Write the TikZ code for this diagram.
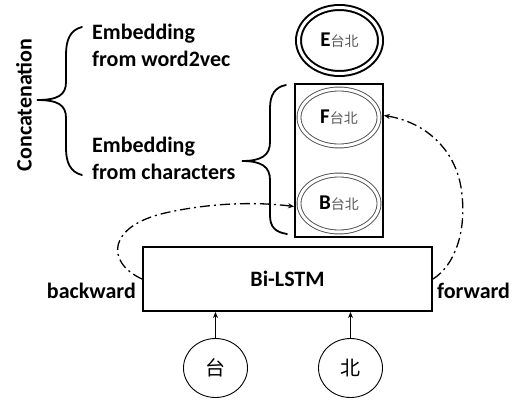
\documentclass[tikz,border=0pt]{standalone}
\usepackage{fontspec}
\setmainfont{Carlito}
\newfontfamily\cjkfont{Noto Sans CJK SC}
\usetikzlibrary{shapes.geometric,arrows.meta}

\newcommand{\hanzi}[1]{{\cjkfont\mdseries\fontsize{14}{14}\selectfont\color{black!65}#1}}

\tikzset{
  lbl/.style={font=\fontsize{22}{27}\selectfont\bfseries, inner sep=0pt},
  wordemb/.style={ellipse, draw, line width=2pt, double, double distance=3pt,
                  minimum width=82pt, minimum height=66pt, inner sep=0pt,
                  font=\fontsize{21}{21}\selectfont\bfseries},
  charemb/.style={ellipse, draw=black!70, text=black, line width=0.9pt, double,
                  double distance=3pt, minimum width=80pt, minimum height=57pt,
                  inner sep=0pt, font=\fontsize{21}{21}\selectfont\bfseries},
  stackbox/.style={rectangle, draw, line width=1.8pt, minimum width=88pt,
                   minimum height=153pt, inner sep=0pt},
  lstmbox/.style={rectangle, draw, line width=2pt, minimum width=289pt,
                  minimum height=64pt, inner sep=0pt,
                  font=\fontsize{22}{22}\selectfont\bfseries},
  charin/.style={ellipse, draw, line width=0.9pt, minimum width=64pt,
                 minimum height=59pt, inner sep=0pt,
                 font=\cjkfont\fontsize{20}{20}\selectfont},
  feed/.style={line width=1.3pt, -{Stealth[length=6pt,width=5pt]}},
  recur/.style={line width=1.3pt, dash pattern=on 10pt off 4pt on 2pt off 4pt,
                -{Stealth[length=6pt,width=5pt]}},
  bracepath/.style={line width=1.8pt, line cap=round},
}

\begin{document}
\begin{tikzpicture}[x=1pt,y=-1pt]
\fill[white] (0,0) rectangle (526,405);
\useasboundingbox (0,0) rectangle (526,405);

% embedding stack
\node[wordemb] (e) at (339.5,40.5) {E\hanzi{台北}};
\node[stackbox] (stack) at (339,160.5) {};
\node[charemb] (f) at (339,117.5) {F\hanzi{台北}};
\node[charemb] (b) at (339,203.5) {B\hanzi{台北}};

% recurrent layer and inputs
\node[lstmbox] (lstm) at (287.5,279) {Bi-LSTM};
\node[charin] (tai) at (215.5,368) {台};
\node[charin] (bei) at (350.5,368) {北};

\draw[feed] (tai.north) -- (tai.north |- lstm.south);
\draw[feed] (bei.north) -- (bei.north |- lstm.south);

% labels
\node[lbl, anchor=east] (bw) at (136,291) {backward};
\node[lbl, anchor=west] (fw) at (437,291) {forward};
\node[lbl, align=left, anchor=west] (w2v) at (92,45) {Embedding\\from word2vec};
\node[lbl, align=left, anchor=west] (chr) at (92,158) {Embedding\\from characters};
\node[lbl, rotate=90] (cat) at (24,105) {Concatenation};

% backward and forward passes
\draw[recur] (lstm.west) .. controls (105,262) and (108,226) .. (165,213)
             .. controls (205,204) and (250,201) .. ([yshift=-3pt]b.west -| stack.west);
\draw[recur] (lstm.east) .. controls (455,265) and (466,232) .. (462,195)
             .. controls (458,150) and (425,122) .. ([yshift=2pt]f.east -| stack.east);

% braces
\draw[bracepath] (82,27) .. controls (70,30) and (66,40) .. (66,55) -- (66,82)
   .. controls (66,95) and (58,100) .. (37,100)
   .. controls (58,100) and (66,105) .. (66,118) -- (66,148)
   .. controls (66,162) and (70,172) .. (82,175);
\draw[bracepath] (286,85) .. controls (275,87) and (270,95) .. (270,108) -- (270,142)
   .. controls (270,155) and (262,161) .. (242,161)
   .. controls (262,161) and (270,167) .. (270,180) -- (270,215)
   .. controls (270,227) and (275,232) .. (287,234);
\end{tikzpicture}
\end{document}
